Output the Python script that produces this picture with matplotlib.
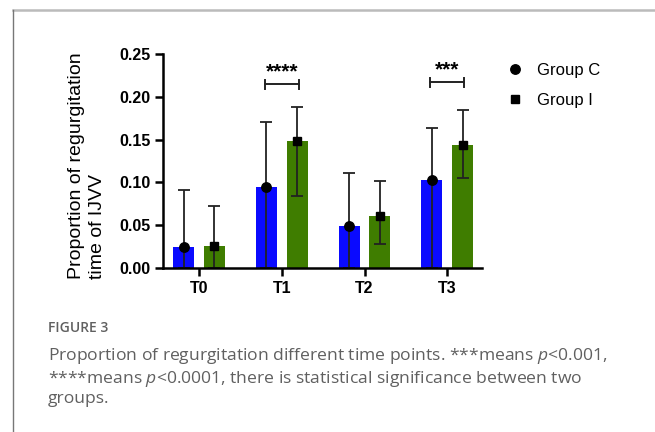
import matplotlib
matplotlib.use("Agg")
import matplotlib.pyplot as plt
from matplotlib.lines import Line2D
import numpy as np

# data
times = ["T0", "T1", "T2", "T3"]
group_c = [0.024, 0.095, 0.049, 0.103]
group_c_hi = [0.091, 0.171, 0.111, 0.164]
group_c_lo = [0.0, 0.0, 0.0, 0.0]
group_i = [0.026, 0.148, 0.061, 0.144]
group_i_hi = [0.073, 0.188, 0.102, 0.184]
group_i_lo = [0.0, 0.084, 0.0285, 0.105]
sig_pairs = [(1, "****", 0.2145), (3, "***", 0.2168)]
y_ticks = [0.00, 0.05, 0.10, 0.15, 0.20, 0.25]

plt.rcParams['font.family'] = ['Liberation Sans', 'DejaVu Sans']
plt.rcParams['mathtext.fontset'] = 'custom'
plt.rcParams['mathtext.it'] = 'Open Sans:italic'
plt.rcParams['mathtext.rm'] = 'Open Sans'

fig = plt.figure(figsize=(6.55, 4.32), dpi=100)
ax = fig.add_axes([0.2489, 0.3796, 0.4870, 0.4954])

x = np.arange(len(times))
off = 0.187
w = 0.254
blue = "#0a0aff"
green = "#3f7d00"

ax.bar(x - off, group_c, w, color=blue, zorder=2)
ax.bar(x + off, group_i, w, color=green, zorder=2)

err_c = [np.array(group_c) - np.array(group_c_lo), np.array(group_c_hi) - np.array(group_c)]
err_i = [np.array(group_i) - np.array(group_i_lo), np.array(group_i_hi) - np.array(group_i)]
ax.errorbar(x - off, group_c, yerr=err_c, fmt='o', color='black', ms=6.8,
            ecolor='#222222', elinewidth=1.3, capsize=4.5, capthick=1.3, zorder=3)
ax.errorbar(x + off, group_i, yerr=err_i, fmt='s', color='black', ms=6.0,
            ecolor='#222222', elinewidth=1.3, capsize=4.5, capthick=1.3, zorder=3)

# significance brackets
for i, stars, yb in sig_pairs:
    x0, x1 = i - off - 0.02, i + off + 0.02
    ax.plot([x0, x1], [yb, yb], color='#222222', lw=1.4, clip_on=False, zorder=3)
    for xe in (x0, x1):
        ax.plot([xe, xe], [yb - 0.0055, yb + 0.0055], color='#222222', lw=1.4,
                clip_on=False, zorder=3)
    ax.text(i, yb + 0.004, stars, ha='center', va='bottom', fontsize=15, fontweight='bold')

ax.set_xlim(-0.435, 3.42)
ax.set_ylim(0, 0.25)
ax.set_yticks(y_ticks)
ax.set_yticklabels([f"{v:.2f}" for v in y_ticks], fontsize=11.5, fontweight='bold')
ax.set_xticks(x)
ax.set_xticklabels(times, fontsize=11.5, fontweight='bold')
for s in ['top', 'right']:
    ax.spines[s].set_visible(False)
for s in ['left', 'bottom']:
    ax.spines[s].set_linewidth(1.8)
    ax.spines[s].set_zorder(4)
ax.tick_params(axis='both', width=1.8, length=6, pad=3)

fig.text(0.133, 0.354, "Proportion of regurgitation\ntime of IJVV", rotation=90,
         ha='center', va='bottom', multialignment='left', fontsize=14, linespacing=1.3)

handles = [Line2D([], [], marker='o', color='black', ls='none', ms=6.8),
           Line2D([], [], marker='s', color='black', ls='none', ms=6.0)]
fig.legend(handles, ["Group C", "Group I"], loc='upper left', bbox_to_anchor=(0.75, 0.89),
           frameon=False, fontsize=12, handletextpad=0.85, labelspacing=0.9, handlelength=1.0)

# page frame
fig.add_artist(Line2D([0.0206, 1.0], [0.977, 0.977], color='#bbbbbb', lw=1.8))
fig.add_artist(Line2D([0.0206, 0.0206], [0.977, 0.0], color='#777777', lw=1.0))

cap_color = '#606060'
fig.text(0.073, 0.241, "FIGURE 3", fontsize=10, color=cap_color, family='Open Sans',
         fontweight='semibold', va='center')
cap = ("Proportion of regurgitation different time points. ***means $\\it{p}$<0.001,\n"
       "****means $\\it{p}$<0.0001, there is statistical significance between two\n"
       "groups.")
fig.text(0.073, 0.2, cap, fontsize=12.6, color=cap_color, family='Open Sans', va='top',
         linespacing=1.21)

fig.savefig("out.png", dpi=100)
